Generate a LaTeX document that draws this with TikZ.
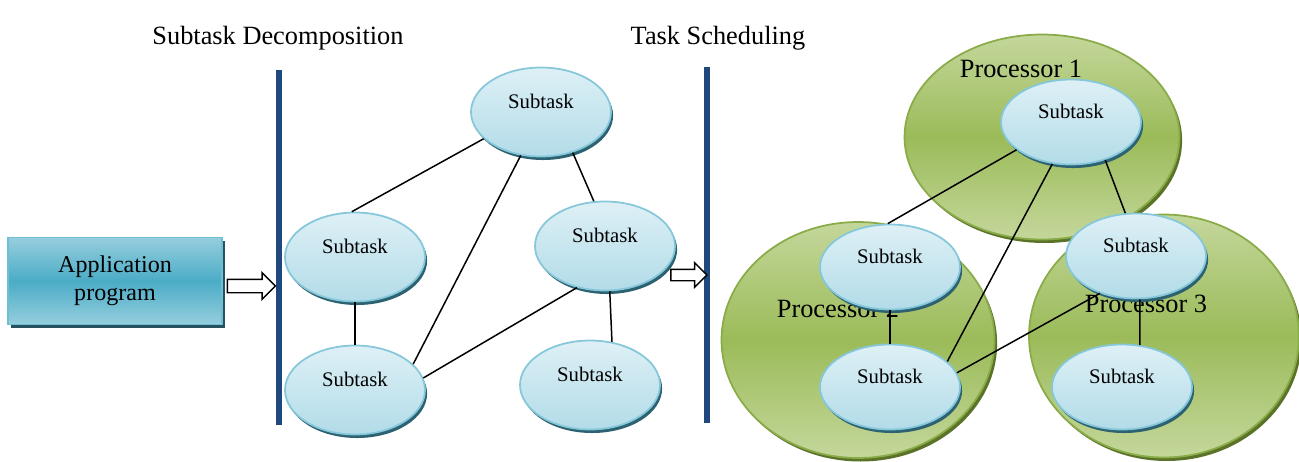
\documentclass[tikz,border=0pt]{standalone}
\usepackage{fontspec}
\setmainfont{Liberation Serif}
\usepackage{tikz}
\usetikzlibrary{shapes.geometric,shapes.arrows,shadows}

\definecolor{barblue}{RGB}{31,73,125}
\definecolor{tasklight}{RGB}{222,240,246}
\definecolor{taskdark}{RGB}{178,220,232}
\definecolor{taskedge}{RGB}{134,200,218}
\definecolor{taskshadow}{RGB}{44,98,114}
\definecolor{proclight}{RGB}{196,215,155}
\definecolor{procmid}{RGB}{155,187,89}
\definecolor{procedge}{RGB}{138,172,72}
\definecolor{procshadow}{RGB}{90,115,40}
\definecolor{applight}{RGB}{150,206,222}
\definecolor{appmid}{RGB}{75,172,198}
\definecolor{appedge}{RGB}{110,190,212}
\definecolor{appshadow}{RGB}{38,82,96}

\begin{document}
\begin{tikzpicture}[x=0.02cm,y=-0.02cm,
	subtask/.style={ellipse,draw=taskedge,line width=1pt,top color=tasklight,bottom color=taskdark,
		minimum width=2.8cm,minimum height=1.78cm,text height=8pt,text depth=11.8pt,
		font=\fontsize{11.8}{13}\selectfont,
		drop shadow={shadow xshift=1.2pt,shadow yshift=-2pt,fill=taskshadow,opacity=1}},
	processor/.style={ellipse,draw=procedge,line width=1pt,top color=proclight,bottom color=proclight,middle color=procmid,
		drop shadow={shadow xshift=1.5pt,shadow yshift=-2pt,fill=procshadow,opacity=1}},
	proclabel/.style={font=\fontsize{15}{18}\selectfont},
	title/.style={font=\fontsize{15}{18}\selectfont},
	hollow/.style={single arrow,draw,fill=white,line width=0.8pt,inner xsep=0pt,
		single arrow head extend=0.13cm,shape border rotate=0},
	link/.style={line width=0.85pt},
	bar/.style={barblue,line width=3.4pt}]
	\useasboundingbox (0,0) rectangle (1299,461);

	% titles and separating bars
	\node[title] (t1) at (278,38) {Subtask Decomposition};
	\node[title] (t2) at (718,38) {Task Scheduling};
	\coordinate (b1top) at (279,70);
	\coordinate (b1bot) at (279,425);
	\coordinate (b2top) at (707,67);
	\coordinate (b2bot) at (707,423);
	\draw[bar] (b1top) -- (b1bot);
	\draw[bar] (b2top) -- (b2bot);

	% application box
	\node[draw=appedge,line width=1pt,top color=applight,bottom color=applight,middle color=appmid,
		minimum width=4.28cm,minimum height=1.74cm,align=center,font=\fontsize{13.7}{15.9}\selectfont,
		drop shadow={shadow xshift=1.8pt,shadow yshift=-2pt,fill=appshadow,opacity=1}]
		(app) at (115,281) {Application\\program};
	\node[hollow,inner ysep=0.12cm,minimum height=0.96cm] (arr1) at (248,286) {};
	\node[hollow,inner ysep=0.1cm,minimum height=0.72cm] (arr2) at (686,275) {};

	% subtask graph
	\node[subtask] (lt) at (541,112) {Subtask};
	\node[subtask] (lm) at (355,257) {Subtask};
	\node[subtask] (lb) at (355,390) {Subtask};
	\node[subtask] (rm) at (605,246) {Subtask};
	\node[subtask] (rb) at (590,385) {Subtask};
	\draw[link] (lt.205) -- (lm.94);
	\draw[link] (lt.245) -- (lb.24);
	\draw[link] (lt.308) -- (rm.104);
	\draw[link] (lm.270) -- (lb.90);
	\draw[link] (rm.236) -- (lb.10);
	\draw[link] (rm.276) -- (rb.63);

	% processors
	\node[processor,minimum width=5.4cm,minimum height=4.86cm] (p3) at (1164,336) {};
	\node[processor,minimum width=5.46cm,minimum height=4.72cm] (p2) at (858,340) {};
	\node[processor,minimum width=5.5cm,minimum height=4.1cm] (p1) at (1042,137) {};
	\node[proclabel] (p1l) at (1021,69) {Processor 1};
	\node[proclabel] (p2l) at (838,309) {Processor 2};
	\node[proclabel] (p3l) at (1146,304) {Processor 3};

	% scheduled subtasks
	\node[subtask,minimum height=1.7cm] (s1) at (1071,122) {Subtask};
	\node[subtask,minimum height=1.7cm] (s2) at (890,267) {Subtask};
	\node[subtask,minimum height=1.7cm] (s3) at (890,387) {Subtask};
	\node[subtask,minimum height=1.7cm] (s4) at (1136,256) {Subtask};
	\node[subtask,minimum height=1.7cm] (s5) at (1122,387) {Subtask};
	\draw[link] (s1.207) -- (s2.93);
	\draw[link] (s1.246) -- (s3.24);
	\draw[link] (s1.312) -- (s4.104);
	\draw[link] (s2.270) -- (s3.90);
	\draw[link] (s4.226) -- (s3.12);
	\draw[link] (s4.275) -- (s5.67);
\end{tikzpicture}
\end{document}
